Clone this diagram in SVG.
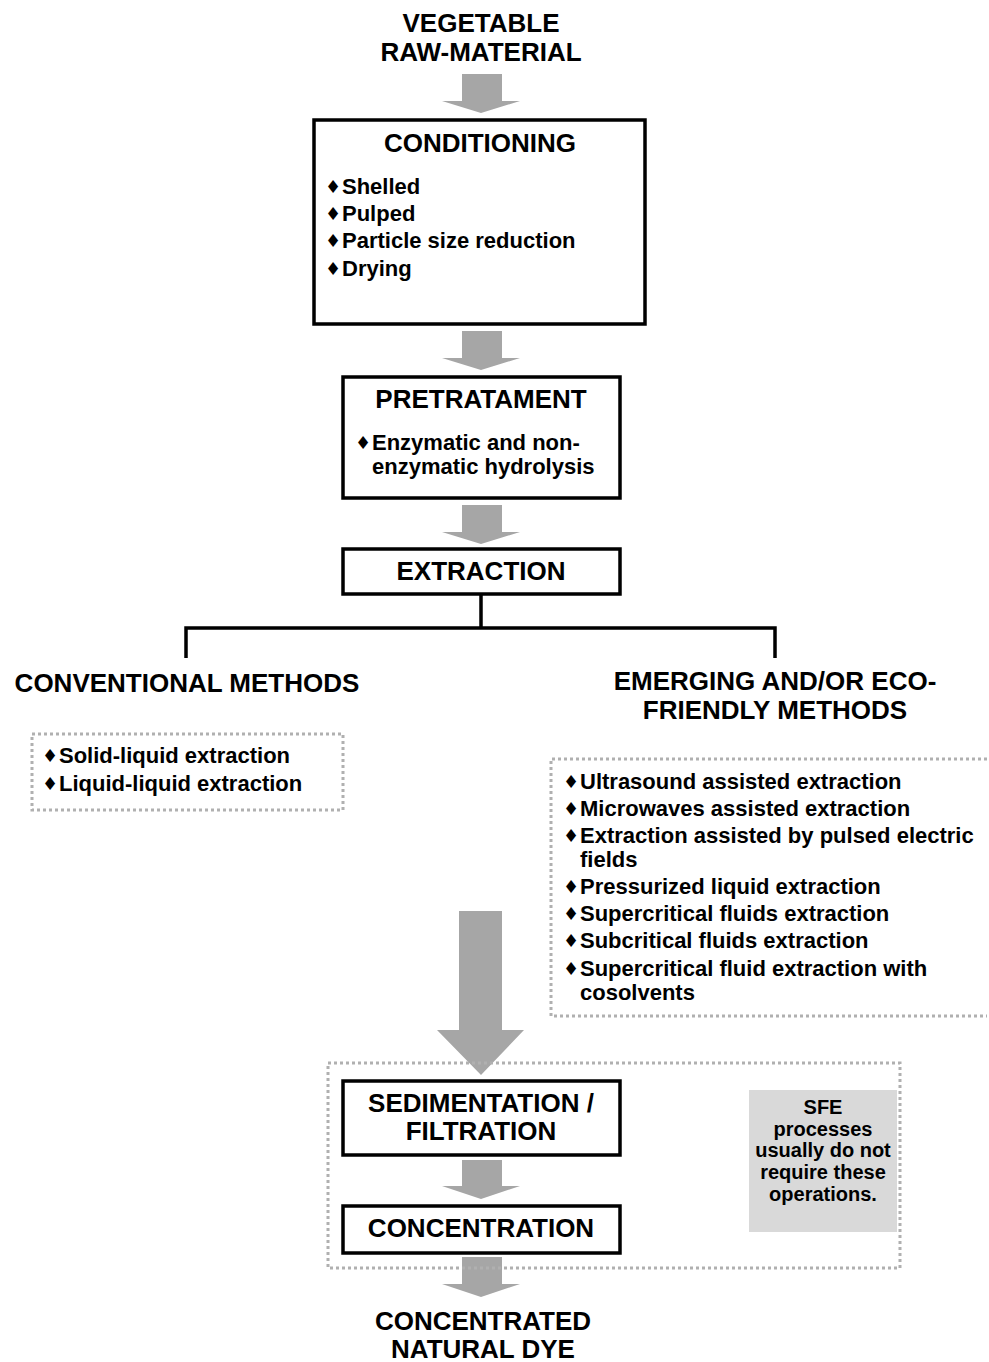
<svg xmlns="http://www.w3.org/2000/svg" width="989" height="1362" viewBox="0 0 989 1362">
<defs>
<style>
.t{font-family:"Liberation Sans",Arial,sans-serif;font-weight:bold;fill:#000}
.h{font-size:26px;text-anchor:middle}
.b{font-size:22px}
.s{font-size:20px;text-anchor:middle}
.d{font-family:"DejaVu Sans",sans-serif;font-size:18px;fill:#000}
.box{fill:#fff;stroke:#000;stroke-width:3.5}
.dot{fill:none;stroke:#b0b0b0;stroke-width:3;stroke-dasharray:3 3}
.arr{fill:#a6a6a6}
.ln{fill:none;stroke:#000;stroke-width:3.5}
</style>
</defs>
<rect width="989" height="1362" fill="#fff"/>

<g id="connectors">
<path class="arr" d="M462 74H502V101H520L481 113L442 101H462Z"/>
<path class="arr" d="M462 331H502V358H520L481 370L442 358H462Z"/>
<path class="arr" d="M462 505H502V532H520L481 544L442 532H462Z"/>
<path class="arr" d="M459 911H502V1030H524L481 1075L437 1030H459Z"/>
<path class="arr" d="M462 1160H502V1186H520L481 1199L442 1186H462Z"/>
<path class="arr" d="M462 1257H502V1284H520L481 1297L442 1284H462Z"/>
<path class="ln" d="M481 595V628M186 658V628H775V658"/>
</g>

<g id="raw-material">
<text class="t h" x="481" y="32">VEGETABLE</text>
<text class="t h" x="481" y="61">RAW-MATERIAL</text>
</g>

<g id="conditioning">
<rect class="box" x="314" y="120" width="331" height="204"/>
<text class="t h" x="480" y="152">CONDITIONING</text>
<text class="d" x="325" y="193">♦</text><text class="t b" x="342" y="194">Shelled</text>
<text class="d" x="325" y="220">♦</text><text class="t b" x="342" y="221">Pulped</text>
<text class="d" x="325" y="247">♦</text><text class="t b" x="342" y="248">Particle size reduction</text>
<text class="d" x="325" y="275">♦</text><text class="t b" x="342" y="276">Drying</text>
</g>

<g id="pretratament">
<rect class="box" x="343" y="377" width="277" height="121"/>
<text class="t h" x="481" y="408">PRETRATAMENT</text>
<text class="d" x="355" y="449">♦</text><text class="t b" x="372" y="450">Enzymatic and non-</text>
<text class="t b" x="372" y="474">enzymatic hydrolysis</text>
</g>

<g id="extraction">
<rect class="box" x="343" y="549" width="277" height="45"/>
<text class="t h" x="481" y="580">EXTRACTION</text>
</g>

<g id="conventional">
<text class="t h" x="187" y="692">CONVENTIONAL METHODS</text>
<rect class="dot" x="32" y="734" width="311" height="76"/>
<text class="d" x="42" y="762">♦</text><text class="t b" x="59" y="763">Solid-liquid extraction</text>
<text class="d" x="42" y="790">♦</text><text class="t b" x="59" y="791">Liquid-liquid extraction</text>
</g>

<g id="emerging">
<text class="t h" x="775" y="690">EMERGING AND/OR ECO-</text>
<text class="t h" x="775" y="719">FRIENDLY METHODS</text>
<path class="dot" d="M987 759H551V1016H987"/>
<text class="d" x="563" y="788">♦</text><text class="t b" x="580" y="789">Ultrasound assisted extraction</text>
<text class="d" x="563" y="815">♦</text><text class="t b" x="580" y="816">Microwaves assisted extraction</text>
<text class="d" x="563" y="842">♦</text><text class="t b" x="580" y="843">Extraction assisted by pulsed electric</text>
<text class="t b" x="580" y="867">fields</text>
<text class="d" x="563" y="893">♦</text><text class="t b" x="580" y="894">Pressurized liquid extraction</text>
<text class="d" x="563" y="920">♦</text><text class="t b" x="580" y="921">Supercritical fluids extraction</text>
<text class="d" x="563" y="947">♦</text><text class="t b" x="580" y="948">Subcritical fluids extraction</text>
<text class="d" x="563" y="975">♦</text><text class="t b" x="580" y="976">Supercritical fluid extraction with</text>
<text class="t b" x="580" y="1000">cosolvents</text>
</g>

<g id="separation-group">
<rect class="dot" x="328" y="1063" width="572" height="205"/>
</g>

<g id="sedimentation">
<rect class="box" x="343" y="1081" width="277" height="74"/>
<text class="t h" x="481" y="1112">SEDIMENTATION /</text>
<text class="t h" x="481" y="1140">FILTRATION</text>
</g>

<g id="concentration">
<rect class="box" x="343" y="1206" width="277" height="47"/>
<text class="t h" x="481" y="1237">CONCENTRATION</text>
</g>

<g id="sfe-note">
<rect x="749" y="1090" width="148" height="142" fill="#d9d9d9"/>
<text class="t s" x="823" y="1114">SFE</text>
<text class="t s" x="823" y="1136">processes</text>
<text class="t s" x="823" y="1157">usually do not</text>
<text class="t s" x="823" y="1179">require these</text>
<text class="t s" x="823" y="1201">operations.</text>
</g>

<g id="product">
<text class="t h" x="483" y="1330">CONCENTRATED</text>
<text class="t h" x="483" y="1358">NATURAL DYE</text>
</g>
</svg>
